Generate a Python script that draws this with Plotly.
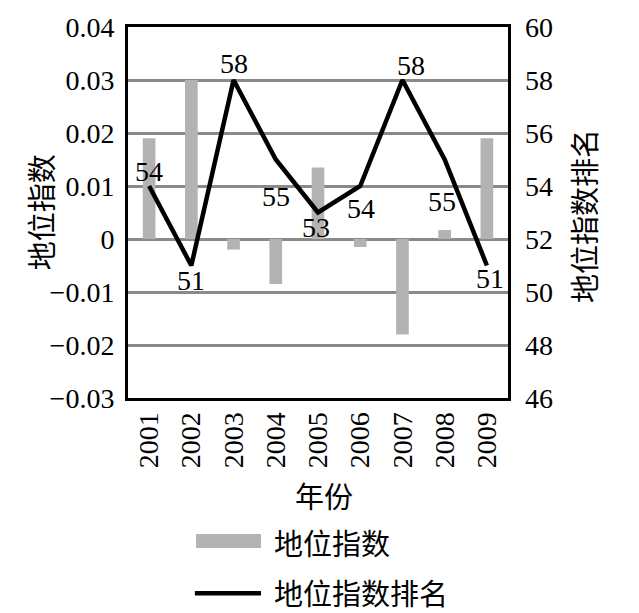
import plotly.graph_objects as go

years = ["2001", "2002", "2003", "2004", "2005", "2006", "2007", "2008", "2009"]
index_values = [0.019, 0.030, -0.002, -0.0085, 0.0135, -0.0015, -0.018, 0.0017, 0.019]
rank_values = [54, 51, 58, 55, 53, 54, 58, 55, 51]

# label offsets (pixels) of the rank data labels relative to their points
label_dx = [0, 0, 0, 0, -2, 1, 9, -3, 3]
label_dy = [15, -15, 17, -37, -15, -22, 15, -42, -13]

SERIF = "Liberation Serif"
CJK = "Noto Sans CJK SC"
FS = 28

fig = go.Figure()
fig.add_trace(go.Bar(
    x=years, y=index_values, name="地位指数",
    marker=dict(color="#b3b3b3", line=dict(width=0)),
    width=0.3,
))
fig.add_trace(go.Scatter(
    x=years, y=rank_values, name="地位指数排名", yaxis="y2",
    mode="lines",
    line=dict(color="black", width=4.5),
    cliponaxis=False,
))

# category axis positions are serial numbers 0..n-1
for i, (rv, dx, dy) in enumerate(zip(rank_values, label_dx, label_dy)):
    fig.add_annotation(x=i, y=rv, xref="x", yref="y2", text=str(rv),
                       showarrow=False, xshift=dx, yshift=dy,
                       xanchor="center", yanchor="middle",
                       font=dict(family=SERIF, size=FS, color="black"))

fig.update_layout(
    width=639, height=613,
    margin=dict(l=128, r=131, t=27, b=215),
    plot_bgcolor="white", paper_bgcolor="white",
    showlegend=False,
    font=dict(family=SERIF, size=FS, color="black"),
    xaxis=dict(
        type="category", tickangle=-90, showgrid=False,
        range=[-0.5, len(years) - 0.5],
        showline=True, linecolor="black", linewidth=3, mirror=True,
        ticks="", ticklabelstandoff=0,
        tickfont=dict(family=SERIF, size=FS, color="black"),
    ),
    yaxis=dict(
        range=[-0.03, 0.04], dtick=0.01, tick0=0,
        showgrid=True, gridcolor="#8a8a8a", gridwidth=2.5,
        zeroline=False,
        showline=True, linecolor="black", linewidth=3, mirror=True,
        ticks="", ticklabelstandoff=5,
        tickfont=dict(family=SERIF, size=FS, color="black"),
    ),
    yaxis2=dict(
        range=[46, 60], dtick=2, overlaying="y", side="right",
        showgrid=False, zeroline=False, showline=False,
        ticks="", ticklabelstandoff=16,
        tickfont=dict(family=SERIF, size=FS, color="black"),
    ),
    bargap=0.7,
)

ann = dict(xref="paper", yref="paper", showarrow=False,
           font=dict(family=CJK, size=29, color="black"))
fig.add_annotation(text="地位指数", x=-0.232, y=0.5, textangle=-90,
                   xanchor="center", yanchor="middle", **ann)
fig.add_annotation(text="地位指数排名", x=1.197, y=0.49, textangle=-90,
                   xanchor="center", yanchor="middle", **ann)
fig.add_annotation(text="年份", x=0.516, y=-0.2615,
                   xanchor="center", yanchor="middle", **ann)
fig.add_annotation(text="地位指数", x=0.379, y=-0.388,
                   xanchor="left", yanchor="middle", **ann)
fig.add_annotation(text="地位指数排名", x=0.379, y=-0.523,
                   xanchor="left", yanchor="middle", **ann)

fig.add_shape(type="rect", xref="paper", yref="paper",
              x0=0.179, x1=0.35, y0=-0.404, y1=-0.3666,
              fillcolor="#b3b3b3", line=dict(width=0))
fig.add_shape(type="line", xref="paper", yref="paper",
              x0=0.176, x1=0.35, y0=-0.526, y1=-0.526,
              line=dict(color="black", width=4.5))

fig.write_html("out.html", config={"displayModeBar": False},
               post_script="document.body.style.margin='0';document.body.style.overflow='hidden';")
